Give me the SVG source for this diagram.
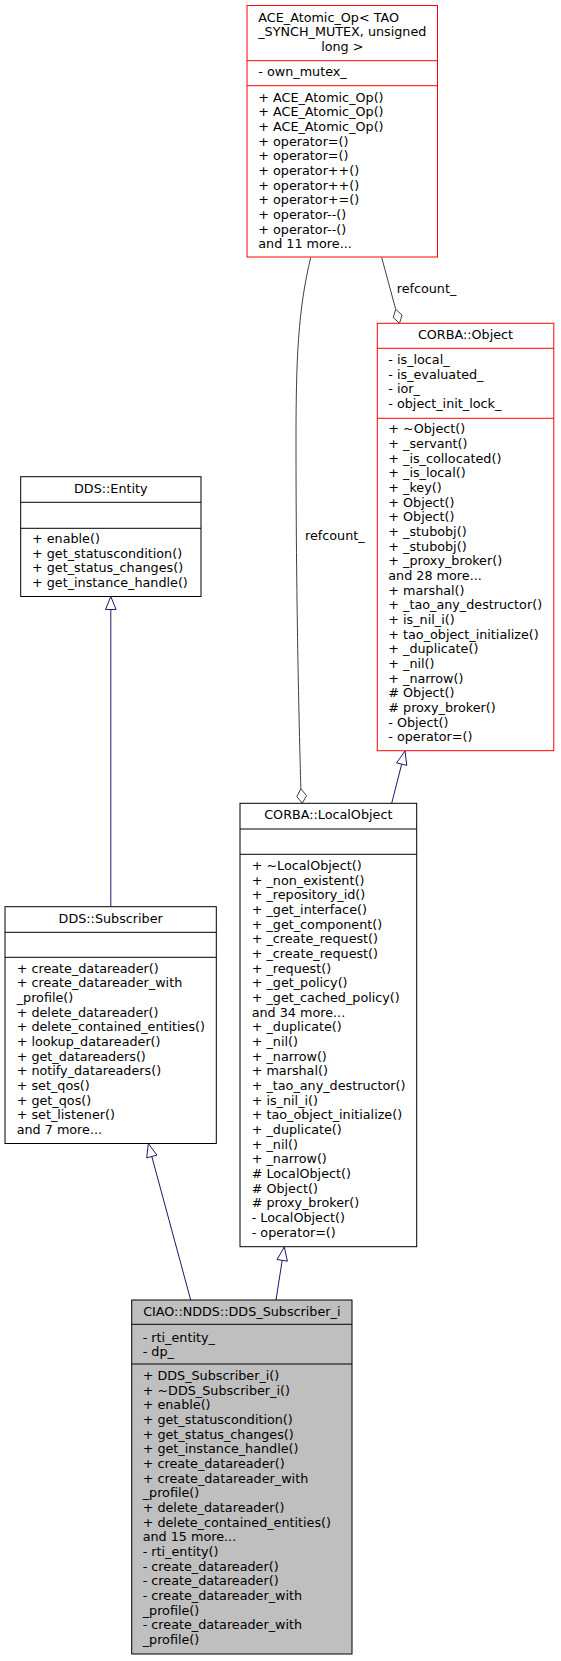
<svg xmlns="http://www.w3.org/2000/svg" width="561" height="1661" viewBox="0 0 561 1661">
<style>
text{font-family:"DejaVu Sans","Liberation Sans",sans-serif;font-size:12.75px;fill:#000}
.c{text-anchor:middle}
.box{fill:#fff;stroke:#000;stroke-width:1}
.red{fill:#fff;stroke:#ff0000;stroke-width:1}
.gray{fill:#bfbfbf;stroke:#000;stroke-width:1}
.div{stroke:#000;stroke-width:1}
.divr{stroke:#ff0000;stroke-width:1}
.inh{fill:none;stroke:#191970;stroke-width:1}
.tri{fill:#fff;stroke:#191970;stroke-width:1}
.agg{fill:none;stroke:#404040;stroke-width:1}
.dia{fill:#fff;stroke:#404040;stroke-width:1}
</style>
<rect width="561" height="1661" fill="#fff"/>
<g id="connectors">
  <line class="inh" x1="110.8" y1="906.7" x2="110.8" y2="609.5"/>
  <polygon class="tri" points="110.8,596.5 105.5,609.5 116.1,609.5"/>
  <line class="inh" x1="391.7" y1="803.3" x2="401.7" y2="764.1"/>
  <polygon class="tri" points="405,751 406.8,765.4 396.6,762.8"/>
  <line class="inh" x1="190.7" y1="1300" x2="151.8" y2="1156.5"/>
  <polygon class="tri" points="148.3,1143.5 156.9,1155.1 146.7,1157.9"/>
  <line class="inh" x1="276" y1="1300" x2="282.2" y2="1260.3"/>
  <polygon class="tri" points="284.3,1247 287.4,1261.2 277,1259.5"/>
  <line class="agg" x1="381.7" y1="257.5" x2="395.7" y2="309.3"/>
  <polygon class="dia" points="399.5,323.3 402.1,315.1 395.7,309.3 393.2,317.5"/>
  <text x="396.7" y="293.3">refcount_</text>
  <path class="agg" d="M310.7,257.5 C298,310 296,360 296,440 C296,600 299,720 300.85,788.9"/>
  <polygon class="dia" points="302.3,803.3 306.5,795.6 300.85,788.9 296.8,796.6"/>
  <text x="305" y="540">refcount_</text>
</g>
<g id="ace_atomic_op">
  <rect class="red" x="247" y="5.5" width="190.5" height="251.5"/>
  <line class="divr" x1="247" y1="60.7" x2="437.5" y2="60.7"/>
  <line class="divr" x1="247" y1="85.7" x2="437.5" y2="85.7"/>
  <text x="258.3" y="21.7">ACE_Atomic_Op&lt; TAO</text>
  <text x="342.3" y="36.3" class="c">_SYNCH_MUTEX, unsigned</text>
  <text x="342.3" y="51" class="c">long &gt;</text>
  <text x="258.3" y="76">- own_mutex_</text>
  <text x="258.3" y="101.7">+ ACE_Atomic_Op()<tspan x="258.3" dy="14.67">+ ACE_Atomic_Op()</tspan><tspan x="258.3" dy="14.67">+ ACE_Atomic_Op()</tspan><tspan x="258.3" dy="14.67">+ operator=()</tspan><tspan x="258.3" dy="14.67">+ operator=()</tspan><tspan x="258.3" dy="14.67">+ operator++()</tspan><tspan x="258.3" dy="14.67">+ operator++()</tspan><tspan x="258.3" dy="14.67">+ operator+=()</tspan><tspan x="258.3" dy="14.67">+ operator--()</tspan><tspan x="258.3" dy="14.67">+ operator--()</tspan><tspan x="258.3" dy="14.67">and 11 more...</tspan></text>
</g>
<g id="corba_object">
  <rect class="red" x="377.3" y="323.3" width="176.5" height="427.4"/>
  <line class="divr" x1="377.3" y1="348.3" x2="553.8" y2="348.3"/>
  <line class="divr" x1="377.3" y1="418.3" x2="553.8" y2="418.3"/>
  <text x="465.5" y="339" class="c">CORBA::Object</text>
  <text x="388.3" y="364">- is_local_<tspan x="388.3" dy="14.67">- is_evaluated_</tspan><tspan x="388.3" dy="14.67">- ior_</tspan><tspan x="388.3" dy="14.67">- object_init_lock_</tspan></text>
  <text x="388.3" y="433.3">+ ~Object()<tspan x="388.3" dy="14.67">+ _servant()</tspan><tspan x="388.3" dy="14.67">+ _is_collocated()</tspan><tspan x="388.3" dy="14.67">+ _is_local()</tspan><tspan x="388.3" dy="14.67">+ _key()</tspan><tspan x="388.3" dy="14.67">+ Object()</tspan><tspan x="388.3" dy="14.67">+ Object()</tspan><tspan x="388.3" dy="14.67">+ _stubobj()</tspan><tspan x="388.3" dy="14.67">+ _stubobj()</tspan><tspan x="388.3" dy="14.67">+ _proxy_broker()</tspan><tspan x="388.3" dy="14.67">and 28 more...</tspan><tspan x="388.3" dy="14.67">+ marshal()</tspan><tspan x="388.3" dy="14.67">+ _tao_any_destructor()</tspan><tspan x="388.3" dy="14.67">+ is_nil_i()</tspan><tspan x="388.3" dy="14.67">+ tao_object_initialize()</tspan><tspan x="388.3" dy="14.67">+ _duplicate()</tspan><tspan x="388.3" dy="14.67">+ _nil()</tspan><tspan x="388.3" dy="14.67">+ _narrow()</tspan><tspan x="388.3" dy="14.67"># Object()</tspan><tspan x="388.3" dy="14.67"># proxy_broker()</tspan><tspan x="388.3" dy="14.67">- Object()</tspan><tspan x="388.3" dy="14.67">- operator=()</tspan></text>
</g>
<g id="dds_entity">
  <rect class="box" x="20.7" y="476.7" width="180.3" height="119.8"/>
  <line class="div" x1="20.7" y1="502.3" x2="201" y2="502.3"/>
  <line class="div" x1="20.7" y1="528.3" x2="201" y2="528.3"/>
  <text x="110.8" y="493.3" class="c">DDS::Entity</text>
  <text x="32" y="543">+ enable()<tspan x="32" dy="14.67">+ get_statuscondition()</tspan><tspan x="32" dy="14.67">+ get_status_changes()</tspan><tspan x="32" dy="14.67">+ get_instance_handle()</tspan></text>
</g>
<g id="corba_localobject">
  <rect class="box" x="240" y="803.3" width="176.7" height="443.4"/>
  <line class="div" x1="240" y1="829" x2="416.7" y2="829"/>
  <line class="div" x1="240" y1="854.3" x2="416.7" y2="854.3"/>
  <text x="328.3" y="819.3" class="c">CORBA::LocalObject</text>
  <text x="251.7" y="870">+ ~LocalObject()<tspan x="251.7" dy="14.67">+ _non_existent()</tspan><tspan x="251.7" dy="14.67">+ _repository_id()</tspan><tspan x="251.7" dy="14.67">+ _get_interface()</tspan><tspan x="251.7" dy="14.67">+ _get_component()</tspan><tspan x="251.7" dy="14.67">+ _create_request()</tspan><tspan x="251.7" dy="14.67">+ _create_request()</tspan><tspan x="251.7" dy="14.67">+ _request()</tspan><tspan x="251.7" dy="14.67">+ _get_policy()</tspan><tspan x="251.7" dy="14.67">+ _get_cached_policy()</tspan><tspan x="251.7" dy="14.67">and 34 more...</tspan><tspan x="251.7" dy="14.67">+ _duplicate()</tspan><tspan x="251.7" dy="14.67">+ _nil()</tspan><tspan x="251.7" dy="14.67">+ _narrow()</tspan><tspan x="251.7" dy="14.67">+ marshal()</tspan><tspan x="251.7" dy="14.67">+ _tao_any_destructor()</tspan><tspan x="251.7" dy="14.67">+ is_nil_i()</tspan><tspan x="251.7" dy="14.67">+ tao_object_initialize()</tspan><tspan x="251.7" dy="14.67">+ _duplicate()</tspan><tspan x="251.7" dy="14.67">+ _nil()</tspan><tspan x="251.7" dy="14.67">+ _narrow()</tspan><tspan x="251.7" dy="14.67"># LocalObject()</tspan><tspan x="251.7" dy="14.67"># Object()</tspan><tspan x="251.7" dy="14.67"># proxy_broker()</tspan><tspan x="251.7" dy="14.67">- LocalObject()</tspan><tspan x="251.7" dy="14.67">- operator=()</tspan></text>
</g>
<g id="dds_subscriber">
  <rect class="box" x="5" y="906.7" width="211.3" height="236.8"/>
  <line class="div" x1="5" y1="932.3" x2="216.3" y2="932.3"/>
  <line class="div" x1="5" y1="957.3" x2="216.3" y2="957.3"/>
  <text x="110.7" y="922.7" class="c">DDS::Subscriber</text>
  <text x="16.7" y="972.7">+ create_datareader()<tspan x="16.7" dy="14.67">+ create_datareader_with</tspan><tspan x="16.7" dy="14.67">_profile()</tspan><tspan x="16.7" dy="14.67">+ delete_datareader()</tspan><tspan x="16.7" dy="14.67">+ delete_contained_entities()</tspan><tspan x="16.7" dy="14.67">+ lookup_datareader()</tspan><tspan x="16.7" dy="14.67">+ get_datareaders()</tspan><tspan x="16.7" dy="14.67">+ notify_datareaders()</tspan><tspan x="16.7" dy="14.67">+ set_qos()</tspan><tspan x="16.7" dy="14.67">+ get_qos()</tspan><tspan x="16.7" dy="14.67">+ set_listener()</tspan><tspan x="16.7" dy="14.67">and 7 more...</tspan></text>
</g>
<g id="dds_subscriber_i">
  <rect class="gray" x="131.7" y="1300" width="220.3" height="354"/>
  <line class="div" x1="131.7" y1="1324.3" x2="352" y2="1324.3"/>
  <line class="div" x1="131.7" y1="1364" x2="352" y2="1364"/>
  <text x="241.8" y="1316" class="c">CIAO::NDDS::DDS_Subscriber_i</text>
  <text x="142.7" y="1341.7">- rti_entity_<tspan x="142.7" dy="14.67">- dp_</tspan></text>
  <text x="142.7" y="1380">+ DDS_Subscriber_i()<tspan x="142.7" dy="14.67">+ ~DDS_Subscriber_i()</tspan><tspan x="142.7" dy="14.67">+ enable()</tspan><tspan x="142.7" dy="14.67">+ get_statuscondition()</tspan><tspan x="142.7" dy="14.67">+ get_status_changes()</tspan><tspan x="142.7" dy="14.67">+ get_instance_handle()</tspan><tspan x="142.7" dy="14.67">+ create_datareader()</tspan><tspan x="142.7" dy="14.67">+ create_datareader_with</tspan><tspan x="142.7" dy="14.67">_profile()</tspan><tspan x="142.7" dy="14.67">+ delete_datareader()</tspan><tspan x="142.7" dy="14.67">+ delete_contained_entities()</tspan><tspan x="142.7" dy="14.67">and 15 more...</tspan><tspan x="142.7" dy="14.67">- rti_entity()</tspan><tspan x="142.7" dy="14.67">- create_datareader()</tspan><tspan x="142.7" dy="14.67">- create_datareader()</tspan><tspan x="142.7" dy="14.67">- create_datareader_with</tspan><tspan x="142.7" dy="14.67">_profile()</tspan><tspan x="142.7" dy="14.67">- create_datareader_with</tspan><tspan x="142.7" dy="14.67">_profile()</tspan></text>
</g>
</svg>
